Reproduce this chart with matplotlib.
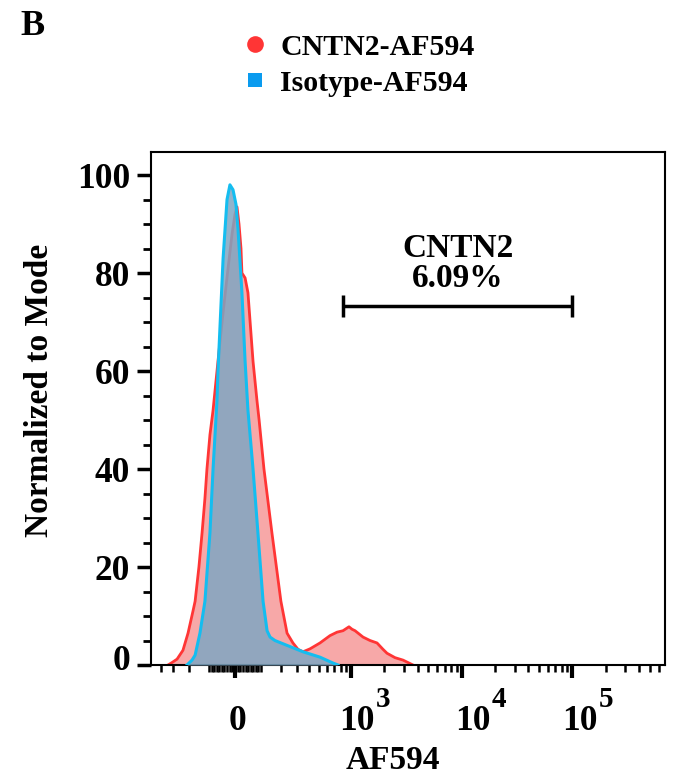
import numpy as np
import matplotlib
matplotlib.use("Agg")
import matplotlib.pyplot as plt
from matplotlib.lines import Line2D
import matplotlib.transforms as mtransforms

# ---------------- data ----------------
cntn2_x = [-340, -309, -273, -235, -205, -178, -167, -148, -133, -120, -111, -98, -85,
           -65, -45, -26, -11, 0, 7.5, 15, 22.5, 26, 38, 49, 69, 85, 94, 115, 152, 199,
           235, 273, 309, 348, 409, 511, 636, 739, 840, 953, 1016, 1083, 1281, 1483,
           1717, 1946, 2115, 2499, 2952, 3636]
cntn2_y = [0, 0.5, 1.2, 3, 6.5, 11, 13, 20, 27, 34, 40, 47, 52,
           62, 72, 81, 88, 92, 93.5, 90, 85, 80, 79, 76, 62, 54, 50, 40, 27, 13,
           6.5, 4.5, 3.2, 2.7, 3.3, 4.5, 6.0, 6.7, 7.0, 7.8, 7.3, 7.0, 5.7, 5.0,
           4.5, 3.2, 2.4, 1.5, 1.0, 0]

iso_x = [-211, -183, -167, -143, -120, -98, -85, -69, -65, -45, -30, -19, -7.5, 3.7,
         11.2, 26, 38, 49, 69, 89, 111, 129, 143, 167, 235, 348, 511, 678, 755]
iso_y = [0, 1, 2, 6.5, 13, 27, 40, 54, 60, 83, 95, 98, 97, 94,
         89, 76, 62, 52, 40, 27, 13, 7, 5.7, 5, 4, 2.7, 1.6, 0.4, 0]

series_names = ["CNTN2-AF594", "Isotype-AF594"]
gate_range = [840, 99000]
gate_name = "CNTN2"
gate_pct = "6.09%"

ytick_vals = [0, 20, 40, 60, 80, 100]
xtick_vals = [0, 1e3, 1e4, 1e5]
xtick_base = ["0", "10", "10", "10"]
xtick_exp = ["", "3", "4", "5"]

# ---------------- biexponential-like axis ----------------
W = 180.0
def fwd(x):
    return np.arcsinh(np.asarray(x, dtype=float) / W) / np.log(10)
def inv(y):
    return W * np.sinh(np.asarray(y, dtype=float) * np.log(10))

plt.rcParams["font.family"] = ["Liberation Serif", "DejaVu Serif"]
plt.rcParams["font.weight"] = "bold"

DPI = 100
fig = plt.figure(figsize=(6.78, 7.82), dpi=DPI)
ax = fig.add_axes([151 / 678, 117 / 782, 514 / 678, 513 / 782])
ax.set_xscale("function", functions=(fwd, inv))
ax.set_xlim(-500, 6.84e5)
ax.set_ylim(0, 104.7)

red_line = "#FF3535"
red_fill = "#F7A8A8"
blue_line = "#14BDF0"
blue_fill = "#7FA6C2"

ax.fill_between(cntn2_x, cntn2_y, 0, color=red_fill, lw=0, zorder=1)
ax.plot(cntn2_x, cntn2_y, color=red_line, lw=2.0, zorder=2)
ax.fill_between(iso_x, iso_y, 0, color=blue_fill, alpha=0.85, lw=0, zorder=3)
ax.plot(iso_x, iso_y, color=blue_line, lw=2.2, zorder=4)

# gate
gy = 73.3
ax.plot(gate_range, [gy, gy], color="black", lw=2.5, solid_capstyle="butt", zorder=5)
ax.vlines(gate_range, gy - 2.3, gy + 2.3, color="black", lw=2.5, zorder=5)
cx = float(inv((fwd(gate_range[0]) + fwd(gate_range[1])) / 2))
ax.text(cx, 83.3, gate_name, ha="center", va="baseline", fontsize=24, fontweight="bold")
ax.text(cx, 77.1, gate_pct, ha="center", va="baseline", fontsize=24, fontweight="bold")

# spines
for s in ax.spines.values():
    s.set_linewidth(1.5)

# y ticks
ax.set_yticks(ytick_vals)
ax.set_yticks([v for v in range(5, 105, 5) if v % 20], minor=True)
ax.tick_params(axis="y", which="major", direction="out", length=10, width=2.5,
               labelsize=25.5, pad=5)
ax.tick_params(axis="y", which="minor", direction="out", length=6, width=2)
ylabs = ax.get_yticklabels()
ylabs[0].set_transform(ylabs[0].get_transform() +
                       mtransforms.ScaledTranslation(0, 8 / DPI, fig.dpi_scale_trans))

# x ticks
minor = ([-400, -300, -200] + list(range(-100, 0, 10)) + list(range(10, 101, 10)) +
         list(range(200, 1000, 100)) + list(range(2000, 10000, 1000)) +
         list(range(20000, 100000, 10000)) + list(range(200000, 700000, 100000)))
ax.set_xticks(xtick_vals, labels=xtick_base)
ax.set_xticks(minor, minor=True)
ax.tick_params(axis="x", which="major", direction="out", length=9, width=3,
               labelsize=25.5, pad=20)
ax.tick_params(axis="x", which="minor", direction="out", length=5, width=1.8)
offs = [2, 6, 11, 7]
for lab, dx in zip(ax.get_xticklabels(), offs):
    lab.set_transform(lab.get_transform() +
                      mtransforms.ScaledTranslation(dx / DPI, 0, fig.dpi_scale_trans))
for v, e, dx in zip(xtick_vals, xtick_exp, offs):
    if e:
        ax.annotate(e, xy=(v, 0), xycoords=("data", "axes fraction"),
                    xytext=(dx + 19, -42), textcoords="offset pixels",
                    ha="left", va="baseline", fontsize=21, fontweight="bold",
                    annotation_clip=False)

ax.set_xlabel("AF594", fontsize=24, fontweight="bold")
ax.xaxis.set_label_coords((393 - 151) / 514, -0.156)
ax.set_ylabel("Normalized to Mode", fontsize=24, fontweight="bold")
ax.yaxis.set_label_coords((55 - 151) / 514, 0.536)

# panel letter
fig.text(20 / 678, (782 - 35) / 782, "B", fontsize=26, fontweight="bold",
         ha="left", va="baseline")

# legend (markers + labels)
leg_rows = [((782 - 44) / 782, (782 - 55) / 782), ((782 - 80) / 782, (782 - 91) / 782)]
markers = [("o", red_line, 12), ("s", "#0A9BEF", 10)]
for name, (my, ty), (mk, mc, ms) in zip(series_names, leg_rows, markers):
    fig.add_artist(Line2D([255 / 678], [my], transform=fig.transFigure, marker=mk,
                          markersize=ms, color=mc, markeredgewidth=0, linestyle="none"))
    fig.text(280 / 678, ty, name, fontsize=21.5, fontweight="bold",
             ha="left", va="baseline")

fig.savefig("out.png", dpi=DPI)
